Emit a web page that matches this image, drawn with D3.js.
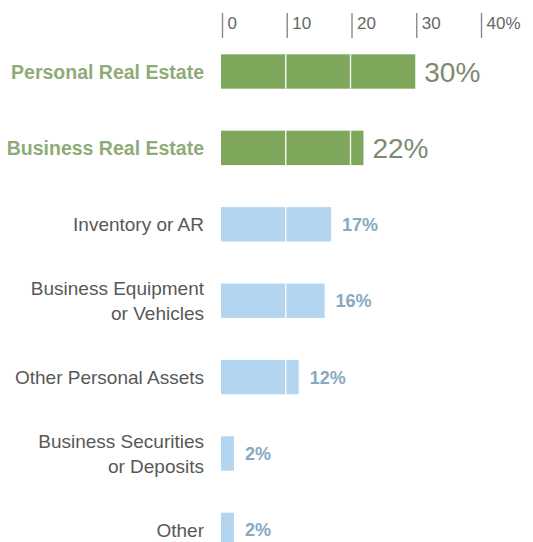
<!DOCTYPE html>
<html>
<head>
<meta charset="utf-8">
<script src="https://cdn.jsdelivr.net/npm/d3@7"></script>
<style>
  html, body { margin: 0; padding: 0; background: #fff; }
  svg { display: block; font-family: "Liberation Sans", Arial, sans-serif; }
</style>
</head>
<body>
<svg id="chart" width="533" height="542"></svg>
<script>
// Collateral types and the share of loans secured by each
const categories = [
  ["Personal Real Estate"],
  ["Business Real Estate"],
  ["Inventory or AR"],
  ["Business Equipment", "or Vehicles"],
  ["Other Personal Assets"],
  ["Business Securities", "or Deposits"],
  ["Other"]
];
const values = [30, 22, 17, 16, 12, 2, 2];
const highlighted = [true, true, false, false, false, false, false];
const tickValues = [0, 10, 20, 30, 40];
const gridValues = [10, 20, 30];

const rows = categories.map((lines, i) => ({
  key: lines.join(" "), lines, value: values[i], hi: highlighted[i]
}));

const svg = d3.select("#chart");

const x = d3.scaleLinear().domain([0, 40]).range([221, 480]);
const y = d3.scaleBand()
  .domain(rows.map(d => d.key))
  .range([33.3, 568.1])
  .paddingInner(0.55)
  .paddingOuter(0.275);

// top axis: short tick bars with labels to their right
const axis = d3.axisTop(x)
  .tickValues(tickValues)
  .tickSize(0)
  .tickFormat(d => d === 40 ? d + "%" : d);
const gAxis = svg.append("g").attr("transform", "translate(1,0)").call(axis);
gAxis.select(".domain").remove();
gAxis.selectAll(".tick line")
  .attr("y1", 13).attr("y2", 38)
  .attr("stroke", "#8a8a8a").attr("stroke-width", 1.4);
gAxis.selectAll(".tick text")
  .attr("text-anchor", "start")
  .attr("x", 5).attr("y", 28.5).attr("dy", null)
  .attr("fill", "#666").attr("font-size", 17);

const green = "#7fa75b", blue = "#b3d5ef";

// bars
svg.append("g").selectAll("rect").data(rows).join("rect")
  .attr("x", x(0))
  .attr("y", d => y(d.key))
  .attr("width", d => x(d.value) - x(0))
  .attr("height", y.bandwidth())
  .attr("fill", d => d.hi ? green : blue);

// white grid lines cutting through the bars
const gridSegs = [];
rows.forEach(d => gridValues.forEach(v => { if (v < d.value) gridSegs.push({ d, v }); }));
svg.append("g").selectAll("line").data(gridSegs).join("line")
  .attr("x1", s => x(s.v)).attr("x2", s => x(s.v))
  .attr("y1", s => y(s.d.key)).attr("y2", s => y(s.d.key) + y.bandwidth())
  .attr("stroke", "#fff").attr("stroke-opacity", 0.85).attr("stroke-width", 1.5);

// category labels
const lineH = 25;
const labels = svg.append("g").selectAll("text").data(rows).join("text")
  .attr("text-anchor", "end")
  .attr("font-size", d => d.hi ? 19.5 : 19)
  .attr("font-weight", d => d.hi ? "bold" : "normal")
  .attr("fill", d => d.hi ? "#8fab78" : "#585858")
  .attr("y", d => y(d.key) + y.bandwidth() / 2 + 7 - (d.lines.length - 1) * lineH / 2);
labels.selectAll("tspan").data(d => d.lines).join("tspan")
  .attr("x", 204)
  .attr("dy", (t, i) => i === 0 ? 0 : lineH)
  .text(t => t);

// value labels
svg.append("g").selectAll("text").data(rows).join("text")
  .attr("x", d => x(d.value) + (d.hi ? 9 : 11))
  .attr("y", d => y(d.key) + y.bandwidth() / 2 + (d.hi ? 10 : 6.5))
  .attr("font-size", d => d.hi ? 28 : 18)
  .attr("font-weight", d => d.hi ? "normal" : "bold")
  .attr("fill", d => d.hi ? "#7c8b6e" : "#86aac2")
  .text(d => d.value + "%");
</script>
</body>
</html>
